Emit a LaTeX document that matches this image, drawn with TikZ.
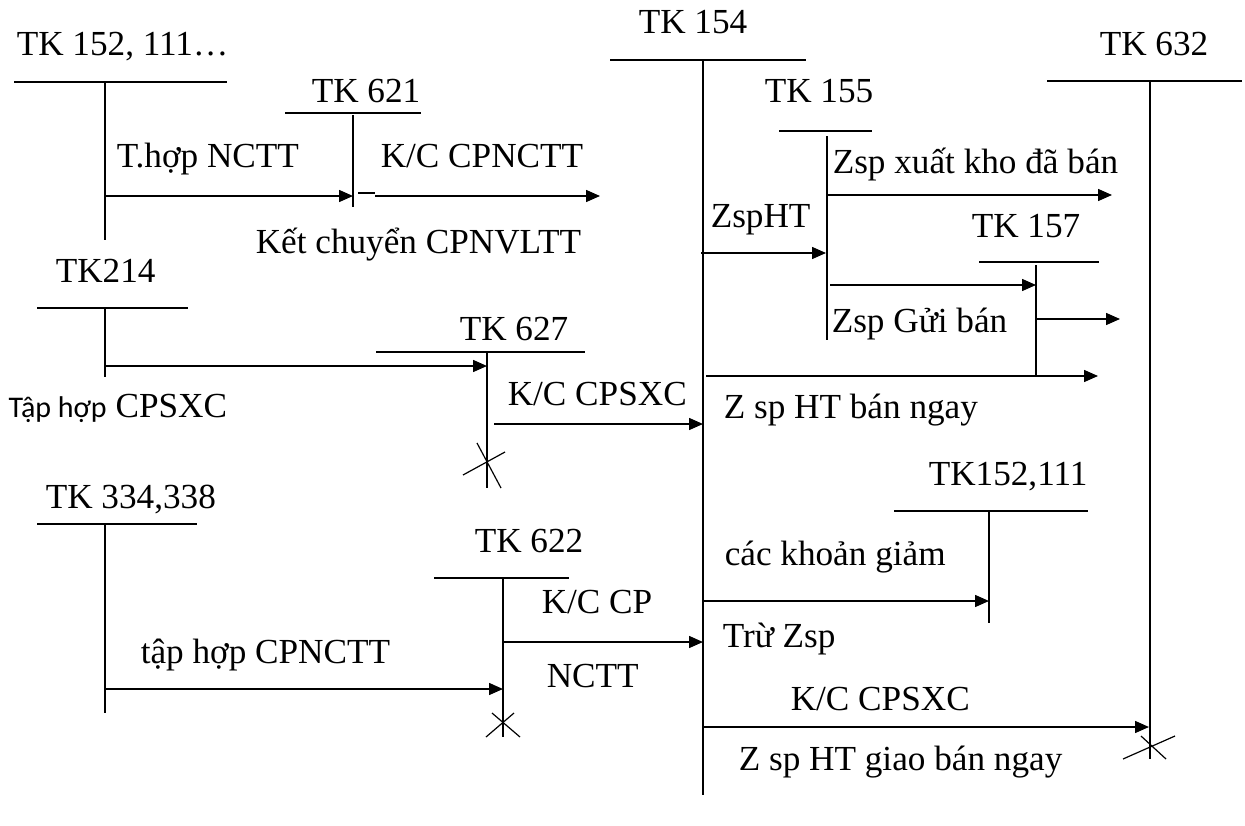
\documentclass[tikz,border=0pt]{standalone}
\usepackage{fontspec}
\setmainfont{Liberation Serif}
\newfontfamily\narrowsf{Carlito}
\usepackage{tikz}
\usetikzlibrary{arrows.meta, positioning, calc}

\begin{document}
\begin{tikzpicture}[x=1pt, y=-1pt, >={Triangle[length=14pt, width=12pt]}, line width=1.5pt,
    lbl/.style={anchor=base west, inner sep=0pt, font=\fontsize{35.2}{40}\selectfont},
    arr/.style={->},
    crossln/.style={line width=1.2pt}]
\useasboundingbox (0,0) rectangle (1245,825);

% TK 152, 111 (direct materials source)
\node[lbl] (n152) at (16,55) {TK 152, 111…};
\draw (14,82) -- (227,82);
\draw (105,82) -- (105,240);

% TK 621
\node[lbl] (n621) at (311,102) {TK 621};
\draw (285,113) -- (421,113);
\draw (353,115) -- (353,207);

% TK 154 (central account)
\node[lbl] (n154) at (638,33) {TK 154};
\draw (610,60) -- (806,60);
\draw (703,60) -- (703,795);

% TK 632
\node[lbl] (n632) at (1099,55) {TK 632};
\draw (1047,81) -- (1242,81);
\draw (1150,81) -- (1150,759);
\draw[crossln] (1123,759) -- (1175,736);
\draw[crossln] (1141,736) -- (1166,759);

% TK 155
\node[lbl] (n155) at (764,102) {TK 155};
\draw (779,131) -- (872,131);
\draw (827,136) -- (827,340);

% TK 157
\node[lbl] (n157) at (971,237) {TK 157};
\draw (979,262) -- (1099,262);
\draw (1036,265) -- (1036,377);

% TK 214
\node[lbl] (n214) at (55,282) {TK214};
\draw (37,308) -- (188,308);
\draw (105,308) -- (105,377);

% TK 627 (closed)
\node[lbl] (n627) at (459,340) {TK 627};
\draw (376,352) -- (585,352);
\draw (487,352) -- (487,488);
\draw[crossln] (477,443) -- (501,488);
\draw[crossln] (463,475) -- (505,452);

% TK 334, 338
\node[lbl] (n334) at (45,508) {TK 334,338};
\draw (37,524) -- (197,524);
\draw (105,524) -- (105,713);

% TK 622 (closed)
\node[lbl] (n622) at (474,552) {TK 622};
\draw (434,578) -- (569,578);
\draw (503,578) -- (503,737);
\draw[crossln] (486,737) -- (514,713);
\draw[crossln] (492,713) -- (520,737);

% TK 152, 111 (reductions)
\node[lbl] (n152b) at (928,485) {TK152,111};
\draw (894,511) -- (1088,511);
\draw (989,511) -- (989,623);

% arrow end points
\coordinate (a152) at (105,196);   \coordinate (a621in) at (353,196);
\coordinate (a621) at (375,196);   \coordinate (a621out) at (600,196);
\coordinate (a155) at (827,195);   \coordinate (a155out) at (1112,195);
\coordinate (a154z) at (701,253);  \coordinate (a155in) at (826,253);
\coordinate (a155g) at (830,285);  \coordinate (a157in) at (1036,285);
\coordinate (a157) at (1036,319);  \coordinate (a157out) at (1120,319);
\coordinate (a154n) at (706,376);  \coordinate (a154nout) at (1098,376);
\coordinate (a214) at (105,366);   \coordinate (a627in) at (487,366);
\coordinate (a627) at (494,424);   \coordinate (a154c) at (703,424);
\coordinate (a334) at (105,689);   \coordinate (a622in) at (503,689);
\coordinate (a622) at (503,642);   \coordinate (a154p) at (703,642);
\coordinate (a154g) at (703,601);  \coordinate (a152in) at (989,601);
\coordinate (a154x) at (703,727);  \coordinate (a632in) at (1149,727);

% flows
\draw[arr] (a152) -- (a621in);
\draw (358,193) -- (375,193);
\draw[arr] (a621) -- (a621out);
\draw[arr] (a155) -- (a155out);
\draw[arr] (a154z) -- (a155in);
\draw[arr] (a155g) -- (a157in);
\draw[arr] (a157) -- (a157out);
\draw[arr] (a154n) -- (a154nout);
\draw[arr] (a214) -- (a627in);
\draw[arr] (a627) -- (a154c);
\draw[arr] (a334) -- (a622in);
\draw[arr] (a622) -- (a154p);
\draw[arr] (a154g) -- (a152in);
\draw[arr] (a154x) -- (a632in);

% labels on the flows
\node[lbl] (l1) at (116,167) {T.hợp NCTT};
\node[lbl] (l2) at (380,167) {K/C CPNCTT};
\node[lbl] (l3) at (255,253) {Kết chuyển CPNVLTT};
\node[lbl] (l4) at (832,173) {Zsp xuất kho đã bán};
\node[lbl] (l5) at (710,227) {ZspHT};
\node[lbl] (l6) at (831,332) {Zsp Gửi bán};
\node[lbl] (l7) at (723,418) {Z sp HT bán ngay};
\node[lbl] (l8) at (8,417) {{\narrowsf\fontsize{30}{32}\selectfont Tập hợp} CPSXC};
\node[lbl] (l9) at (507,405) {K/C CPSXC};
\node[lbl] (l10) at (140,663) {tập hợp CPNCTT};
\node[lbl] (l11) at (541,613) {K/C CP};
\node[lbl] (l12) at (546,687) {NCTT};
\node[lbl] (l13) at (724,565) {các khoản giảm};
\node[lbl] (l14) at (722,647) {Trừ Zsp};
\node[lbl] (l15) at (790,710) {K/C CPSXC};
\node[lbl] (l16) at (738,770) {Z sp HT giao bán ngay};
\end{tikzpicture}
\end{document}
